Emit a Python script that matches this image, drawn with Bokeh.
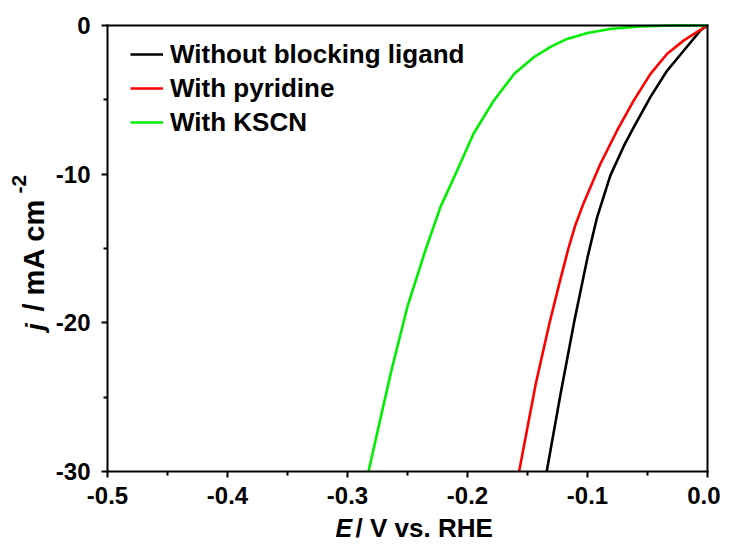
import math
from bokeh.plotting import figure
from bokeh.models import Range1d, FixedTicker, PrintfTickFormatter, Label, LinearAxis
from bokeh.embed import file_html
from bokeh.resources import INLINE

# ---------------- data ----------------
series_names = ["Without blocking ligand", "With pyridine", "With KSCN"]
series_colors = ["#000000", "#FF0000", "#00EE00"]

E_black = [-0.134, -0.1225, -0.111, -0.100, -0.092, -0.081, -0.0697, -0.0614,
           -0.0475, -0.0336, -0.0197, -0.006, 0.0]
j_black = [-30.0, -24.8, -19.9, -15.6, -12.9, -10.1, -8.1, -6.84,
           -4.8, -3.03, -1.68, -0.34, 0.0]

E_red = [-0.157, -0.1431, -0.1319, -0.1236, -0.1156, -0.110, -0.103, -0.0892,
         -0.0753, -0.0614, -0.0475, -0.0336, -0.0197, -0.006, 0.0]
j_red = [-30.0, -24.1, -20.1, -17.4, -14.9, -13.4, -11.9, -9.3,
         -7.06, -5.04, -3.25, -1.9, -1.0, -0.3, 0.0]

E_green = [-0.2825, -0.264, -0.250, -0.235, -0.2225, -0.2086, -0.195, -0.178,
           -0.161, -0.1447, -0.130, -0.117, -0.100, -0.080, -0.056, -0.030, 0.0]
j_green = [-30.0, -23.4, -18.9, -15.1, -12.2, -9.75, -7.28, -5.04,
           -3.25, -2.13, -1.4, -0.9, -0.5, -0.22, -0.06, 0.0, 0.0]

x_ticks = [-0.5, -0.4, -0.3, -0.2, -0.1, 0.0]
x_minor = [-0.45, -0.35, -0.25, -0.15, -0.05]
y_ticks = [-30, -20, -10, 0]
y_minor = [-25, -15, -5]

X0, X1 = -0.5, 0.0
Y0, Y1 = -30, 0

# ---------------- layout (canvas px of the axes box) ----------------
W, H = 720, 541
FL, FR, FT, FB = 107, 707, 25, 471
FONT = "Liberation Sans"


def px_x(px):
    return X0 + (px - FL) / (FR - FL) * (X1 - X0)


def px_y(py):
    return Y1 - (py - FT) / (FB - FT) * (Y1 - Y0)


p = figure(
    width=W, height=H,
    x_range=Range1d(px_x(0), px_x(W)), y_range=Range1d(px_y(H), px_y(0)),
    x_axis_location=None, y_axis_location=None,
    min_border=0,
    output_backend="svg", toolbar_location=None,
)
p.xgrid.visible = False
p.ygrid.visible = False
p.outline_line_color = None
p.background_fill_color = "white"
p.border_fill_color = "white"


def style_axis(ax, ticks, minor, fmt):
    ax.ticker = FixedTicker(ticks=ticks, minor_ticks=minor)
    ax.formatter = PrintfTickFormatter(format=fmt)
    ax.axis_line_width = 2
    ax.axis_line_color = "black"
    ax.axis_line_cap = "square"
    ax.major_tick_line_width = 2
    ax.minor_tick_line_width = 2
    ax.major_tick_out = 6
    ax.major_tick_in = 0
    ax.minor_tick_out = 4
    ax.minor_tick_in = 0
    ax.major_label_text_font = FONT
    ax.major_label_text_font_style = "bold"
    ax.major_label_text_font_size = "24px"
    ax.major_label_text_color = "black"


xax = LinearAxis(fixed_location=Y0, bounds=(X0, X1))
style_axis(xax, x_ticks, x_minor, "%.1f")
xax.major_label_standoff = 9
p.add_layout(xax, "below")

yax = LinearAxis(fixed_location=X0, bounds=(Y0, Y1))
style_axis(yax, y_ticks, y_minor, "%d")
yax.major_label_standoff = 11
p.add_layout(yax, "left")

# top and right borders of the box (axes without ticks)
tax = LinearAxis(fixed_location=Y1, bounds=(X0, X1))
style_axis(tax, [], [], "%.1f")
p.add_layout(tax, "above")
rax = LinearAxis(fixed_location=X1, bounds=(Y0, Y1))
style_axis(rax, [], [], "%d")
p.add_layout(rax, "right")

for E, j, name, col in ((E_black, j_black, series_names[0], series_colors[0]),
                        (E_red, j_red, series_names[1], series_colors[1]),
                        (E_green, j_green, series_names[2], series_colors[2])):
    p.line(E, j, line_color=col, line_width=2.6, line_join="round", legend_label=name)

lg = p.legend[0]
lg.location = (130, H - 139)
lg.border_line_color = None
lg.background_fill_alpha = 0
lg.padding = 0
lg.margin = 0
lg.spacing = 0
lg.label_height = 34
lg.glyph_height = 34
lg.glyph_width = 33
lg.label_standoff = 7
lg.label_text_font = FONT
lg.label_text_font_style = "bold"
lg.label_text_font_size = "26px"
lg.label_text_color = "black"


def add_label(text, px, py, size, style="bold", angle=0.0):
    p.add_layout(Label(x=px_x(px), y=px_y(py), text=text, text_font=FONT,
                       text_font_style=style, text_font_size=size,
                       text_color="black", text_align="left",
                       text_baseline="alphabetic", angle=angle))


# x-axis title (anchor sits ~0.36 em above the drawn baseline)
add_label("E", 335, 527, "25px", "bold italic")
add_label("/ V vs. RHE", 355, 527, "26px")

# y-axis title (rotated)
add_label("j", 34, 330, "26px", "bold italic", math.pi / 2)
add_label("/ mA cm", 33, 311, "29px", "bold", math.pi / 2)
add_label("-2", 18, 193, "21px", "bold", math.pi / 2)

open("out.html", "w").write(file_html(p, INLINE))
